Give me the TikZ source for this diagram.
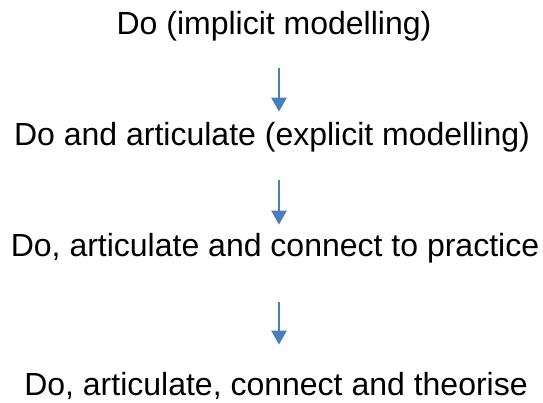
\documentclass[tikz,border=0pt]{standalone}
\usepackage{fontspec}
\setmainfont{Liberation Sans}
\usetikzlibrary{arrows.meta}
\definecolor{arrowblue}{RGB}{74,126,187}
\tikzset{
  steptext/.style={anchor=base,inner sep=0pt,font=\fontsize{32}{36}\selectfont},
  flow/.style={arrowblue,line width=2.4pt,-{Triangle[length=14pt,width=15pt]}}
}
\begin{document}
\begin{tikzpicture}[x=1pt,y=-1pt]
\useasboundingbox (0,0) rectangle (543,403);

\node[steptext] (t1) at (274,35) {Do (implicit modelling)}; % step 1
\node[steptext] (t2) at (272,146) {Do and articulate (explicit modelling)}; % step 2
\node[steptext] (t3) at (275,256) {Do, articulate and connect to practice}; % step 3
\node[steptext] (t4) at (276,395) {Do, articulate, connect and theorise}; % step 4

\coordinate (ax) at (279,0); % arrow column

\draw[flow] (t1.south -| ax) ++(0,26) -- ([yshift=11pt]t2.north -| ax);
\draw[flow] (t2.south -| ax) ++(0,27) -- ([yshift=8pt]t3.north -| ax);
\draw[flow] (t3.south -| ax) ++(0,39) -- ([yshift=27pt]t4.north -| ax);

\end{tikzpicture}
\end{document}
